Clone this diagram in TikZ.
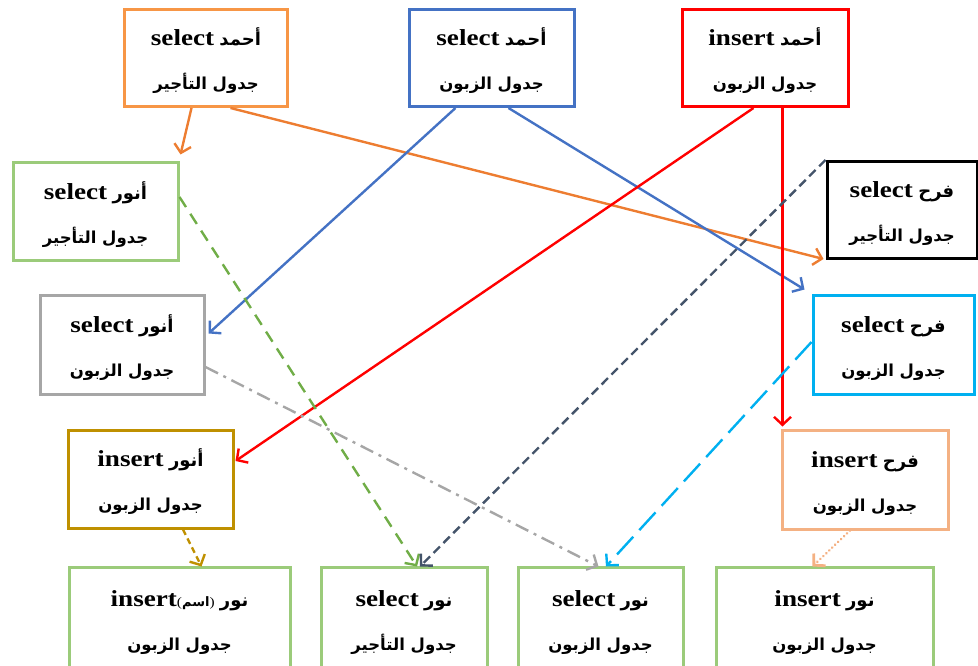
\documentclass[tikz,border=0pt]{standalone}
\usepackage{fontspec}
\setmainfont{Liberation Serif}[FakeStretch=1.18]
\newfontfamily\arfont[Script=Arabic]{DejaVu Sans}
\TeXXeTstate=1
\usetikzlibrary{arrows.meta,calc}
% Arabic words, right to left
\newcommand{\arw}[1]{{\arfont\bfseries\beginR #1\endR}}
% table name on the second line, slightly smaller
\newcommand{\tbl}[1]{{\fontsize{16.5}{44}\selectfont\arw{#1}}}
% English keywords, set a little larger than the Arabic text
\newcommand{\eng}[1]{\rule{0pt}{24pt}{\fontsize{23}{44}\selectfont\bfseries #1}}

\definecolor{cOrange}{HTML}{F79646}
\definecolor{cOrangeLine}{HTML}{ED7D31}
\definecolor{cBlue}{HTML}{4472C4}
\definecolor{cRed}{HTML}{FF0000}
\definecolor{cGreen}{HTML}{9BCB7A}
\definecolor{cGreenLine}{HTML}{70AD47}
\definecolor{cGray}{HTML}{A6A6A6}
\definecolor{cCyan}{HTML}{00B0F0}
\definecolor{cGold}{HTML}{BF9000}
\definecolor{cPeach}{HTML}{F4B183}
\definecolor{cSlate}{HTML}{44546A}

\begin{document}
\begin{tikzpicture}[x=1pt,y=-1pt,
  opbox/.style={draw, line width=3pt, fill=white, align=center, inner sep=0pt,
    minimum height=97pt, font=\fontsize{18}{44}\selectfont},
  conn/.style={line width=2.4pt, -{Straight Barb[length=8pt,width=17pt]}},
  dashA/.style={dash pattern=on 12pt off 8pt},
  dashB/.style={dash pattern=on 9pt off 5pt},
  dashdotC/.style={dash pattern=on 14pt off 6pt on 3pt off 6pt},
  longdashD/.style={dash pattern=on 24pt off 9pt},
  shortdashE/.style={dash pattern=on 6pt off 4pt},
  dotF/.style={line cap=round, line width=2.8pt, dash pattern=on 0.1pt off 4pt}]
\useasboundingbox (0,0) rectangle (978,666);

% top row
\node[opbox, draw=cOrange, minimum width=163pt] (A1) at (206,58)
  {\eng{select} \arw{أحمد}\\ \tbl{جدول التأجير}};
\node[opbox, draw=cBlue, minimum width=165pt] (A2) at (491.5,58)
  {\eng{select} \arw{أحمد}\\ \tbl{جدول الزبون}};
\node[opbox, draw=cRed, minimum width=166pt] (A3) at (765,58)
  {\eng{insert} \arw{أحمد}\\ \tbl{جدول الزبون}};

% middle rows
\node[opbox, draw=cGreen, minimum width=165pt] (B1) at (95.5,211.5)
  {\eng{select} \arw{أنور}\\ \tbl{جدول التأجير}};
\node[opbox, draw=black, minimum width=150pt] (F1) at (902,210)
  {\eng{select} \arw{فرح}\\ \tbl{جدول التأجير}};
\node[opbox, draw=cGray, minimum width=164pt, minimum height=99pt] (G1) at (122,344.5)
  {\eng{select} \arw{أنور}\\ \tbl{جدول الزبون}};
\node[opbox, draw=cCyan, minimum width=161pt, minimum height=99pt] (C1) at (893.5,344.5)
  {\eng{select} \arw{فرح}\\ \tbl{جدول الزبون}};
\node[opbox, draw=cGold, minimum width=165pt, minimum height=98pt] (D1) at (150.5,479)
  {\eng{insert} \arw{أنور}\\ \tbl{جدول الزبون}};
\node[opbox, draw=cPeach, minimum width=166pt, minimum height=99pt] (E1) at (865,479.5)
  {\eng{insert} \arw{فرح}\\ \tbl{جدول الزبون}};

% bottom row, running off the lower edge
\node[opbox, draw=cGreen, minimum width=221pt, minimum height=104pt] (N1) at (179.5,619)
  {\eng{insert}{\fontsize{13}{13}\selectfont(\arw{اسم})} \arw{نور}\\ \tbl{جدول الزبون}};
\node[opbox, draw=cGreen, minimum width=166pt, minimum height=104pt] (N2) at (404,619)
  {\eng{select} \arw{نور}\\ \tbl{جدول التأجير}};
\node[opbox, draw=cGreen, minimum width=165pt, minimum height=104pt] (N3) at (600.5,619)
  {\eng{select} \arw{نور}\\ \tbl{جدول الزبون}};
\node[opbox, draw=cGreen, minimum width=217pt, minimum height=104pt] (N4) at (824.5,619)
  {\eng{insert} \arw{نور}\\ \tbl{جدول الزبون}};

% solid connectors from the top row
\draw[conn, cOrangeLine] ([xshift=68.5pt]A1.south west) -- ([xshift=1pt,yshift=7pt]B1.north east);
\draw[conn, cOrangeLine] ([xshift=107.5pt]A1.south west) -- ([xshift=-2pt,yshift=1pt]F1.south west);
\draw[conn, cBlue] ([xshift=48pt]A2.south west) -- ([xshift=3pt,yshift=11pt]G1.east);
\draw[conn, cBlue] ([xshift=101pt]A2.south west) -- ([xshift=-7pt,yshift=4pt]C1.north west);
\draw[conn, cRed] ([xshift=73pt]A3.south west) -- ([xshift=1pt,yshift=18pt]D1.east);
\draw[conn, cRed] ([xshift=102pt]A3.south west) -- ([xshift=2pt,yshift=2pt]E1.north west);

% patterned connectors into the bottom row
\draw[conn, dashA, cGreenLine] ([yshift=14.5pt]B1.east) -- ([xshift=13pt,yshift=-1pt]N2.north);
\draw[conn, dashB, cSlate] (F1.north west) -- ([xshift=16pt,yshift=-1pt]N2.north);
\draw[conn, dashdotC, cGray] ([yshift=-22.5pt]G1.east) -- ([xshift=-2pt,yshift=-1pt]N3.north);
\draw[conn, longdashD, cCyan] ([yshift=2.5pt]C1.west) -- ([xshift=5.5pt,yshift=-1pt]N3.north);
\draw[conn, shortdashE, cGold] ([xshift=32.5pt]D1.south) -- ([xshift=22pt,yshift=-1pt]N1.north);
\draw[conn, dotF, cPeach] ([xshift=-15pt]E1.south) -- ([xshift=-12pt,yshift=-1pt]N4.north);
\end{tikzpicture}
\end{document}
